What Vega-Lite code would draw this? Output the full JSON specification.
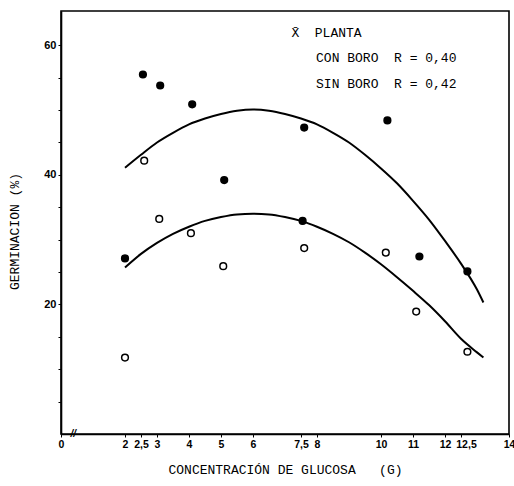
{
  "$schema": "https://vega.github.io/schema/vega-lite/v6.json",
  "width": 448,
  "height": 423,
  "autosize": "none",
  "padding": {"left": 61, "top": 11, "right": 5, "bottom": 52},
  "background": "white",
  "config": {
    "view": {"stroke": "black", "strokeWidth": 1.6},
    "axis": {"domainColor": "black", "domainWidth": 1.6, "tickColor": "black", "grid": false, "labelColor": "black", "titleColor": "black"}
  },
  "datasets": {
    "points": [
      {"conc": 2.0, "germ": 27.1, "boro": "CON BORO"},
      {"conc": 2.56, "germ": 55.5, "boro": "CON BORO"},
      {"conc": 3.1, "germ": 53.8, "boro": "CON BORO"},
      {"conc": 4.1, "germ": 50.9, "boro": "CON BORO"},
      {"conc": 5.1, "germ": 39.2, "boro": "CON BORO"},
      {"conc": 7.6, "germ": 47.3, "boro": "CON BORO"},
      {"conc": 7.55, "germ": 32.9, "boro": "CON BORO"},
      {"conc": 10.2, "germ": 48.4, "boro": "CON BORO"},
      {"conc": 11.2, "germ": 27.4, "boro": "CON BORO"},
      {"conc": 12.7, "germ": 25.1, "boro": "CON BORO"},
      {"conc": 2.0, "germ": 11.8, "boro": "SIN BORO"},
      {"conc": 2.6, "germ": 42.2, "boro": "SIN BORO"},
      {"conc": 3.07, "germ": 33.2, "boro": "SIN BORO"},
      {"conc": 4.06, "germ": 31.0, "boro": "SIN BORO"},
      {"conc": 5.07, "germ": 25.9, "boro": "SIN BORO"},
      {"conc": 7.6, "germ": 28.7, "boro": "SIN BORO"},
      {"conc": 10.15, "germ": 28.0, "boro": "SIN BORO"},
      {"conc": 11.1, "germ": 18.9, "boro": "SIN BORO"},
      {"conc": 12.7, "germ": 12.7, "boro": "SIN BORO"}
    ],
    "curves": [
      {"conc": 2.0, "germ": 41.1, "boro": "CON BORO"},
      {"conc": 2.5, "germ": 43.1, "boro": "CON BORO"},
      {"conc": 3.0, "germ": 45.0, "boro": "CON BORO"},
      {"conc": 3.5, "germ": 46.5, "boro": "CON BORO"},
      {"conc": 4.0, "germ": 47.8, "boro": "CON BORO"},
      {"conc": 4.5, "germ": 48.7, "boro": "CON BORO"},
      {"conc": 5.0, "germ": 49.4, "boro": "CON BORO"},
      {"conc": 5.5, "germ": 49.9, "boro": "CON BORO"},
      {"conc": 6.0, "germ": 50.1, "boro": "CON BORO"},
      {"conc": 6.5, "germ": 49.9, "boro": "CON BORO"},
      {"conc": 7.0, "germ": 49.4, "boro": "CON BORO"},
      {"conc": 7.5, "germ": 48.7, "boro": "CON BORO"},
      {"conc": 8.0, "germ": 47.8, "boro": "CON BORO"},
      {"conc": 8.5, "germ": 46.5, "boro": "CON BORO"},
      {"conc": 9.0, "germ": 45.0, "boro": "CON BORO"},
      {"conc": 9.5, "germ": 43.1, "boro": "CON BORO"},
      {"conc": 10.0, "germ": 41.0, "boro": "CON BORO"},
      {"conc": 10.5, "germ": 38.7, "boro": "CON BORO"},
      {"conc": 11.0, "germ": 36.0, "boro": "CON BORO"},
      {"conc": 11.5, "germ": 33.1, "boro": "CON BORO"},
      {"conc": 12.0, "germ": 29.8, "boro": "CON BORO"},
      {"conc": 12.5, "germ": 26.3, "boro": "CON BORO"},
      {"conc": 13.0, "germ": 22.3, "boro": "CON BORO"},
      {"conc": 13.2, "germ": 20.3, "boro": "CON BORO"},
      {"conc": 2.0, "germ": 25.7, "boro": "SIN BORO"},
      {"conc": 2.5, "germ": 27.8, "boro": "SIN BORO"},
      {"conc": 3.0, "germ": 29.5, "boro": "SIN BORO"},
      {"conc": 3.5, "germ": 30.9, "boro": "SIN BORO"},
      {"conc": 4.0, "germ": 32.0, "boro": "SIN BORO"},
      {"conc": 4.5, "germ": 32.9, "boro": "SIN BORO"},
      {"conc": 5.0, "germ": 33.5, "boro": "SIN BORO"},
      {"conc": 5.5, "germ": 33.9, "boro": "SIN BORO"},
      {"conc": 6.0, "germ": 34.0, "boro": "SIN BORO"},
      {"conc": 6.5, "germ": 33.9, "boro": "SIN BORO"},
      {"conc": 7.0, "germ": 33.5, "boro": "SIN BORO"},
      {"conc": 7.5, "germ": 32.9, "boro": "SIN BORO"},
      {"conc": 8.0, "germ": 32.0, "boro": "SIN BORO"},
      {"conc": 8.5, "germ": 30.9, "boro": "SIN BORO"},
      {"conc": 9.0, "germ": 29.6, "boro": "SIN BORO"},
      {"conc": 9.5, "germ": 28.0, "boro": "SIN BORO"},
      {"conc": 10.0, "germ": 26.2, "boro": "SIN BORO"},
      {"conc": 10.5, "germ": 24.2, "boro": "SIN BORO"},
      {"conc": 11.0, "germ": 22.1, "boro": "SIN BORO"},
      {"conc": 11.5, "germ": 19.9, "boro": "SIN BORO"},
      {"conc": 12.0, "germ": 17.4, "boro": "SIN BORO"},
      {"conc": 12.5, "germ": 14.7, "boro": "SIN BORO"},
      {"conc": 13.0, "germ": 12.6, "boro": "SIN BORO"},
      {"conc": 13.2, "germ": 11.8, "boro": "SIN BORO"}
    ],
    "notes": [
      {"label": "X\u0304\u00a0\u00a0PLANTA", "conc": 7.2, "germ": 61.9, "kind": "legend"},
      {"label": "CON BORO\u00a0\u00a0R = 0,40", "conc": 7.97, "germ": 58.0, "kind": "legend"},
      {"label": "SIN BORO\u00a0\u00a0R = 0,42", "conc": 7.97, "germ": 54.1, "kind": "legend"},
      {"label": "//", "conc": 0.38, "germ": 0, "kind": "break"}
    ]
  },
  "layer": [
    {
      "data": {"name": "curves"},
      "mark": {"type": "line", "color": "black", "strokeWidth": 2, "interpolate": "monotone"},
      "encoding": {
        "x": {
          "field": "conc", "type": "quantitative",
          "scale": {"domain": [0, 14], "nice": false, "zero": false},
          "axis": {
            "title": "CONCENTRACIÓN DE GLUCOSA\u00a0\u00a0\u00a0(G)",
            "titleFont": "Liberation Mono", "titleFontSize": 13, "titleFontWeight": "normal", "titlePadding": 14,
            "values": [0, 2, 2.5, 3, 4, 5, 6, 7.5, 8, 10, 11, 12, 12.5, 14],
            "tickCount": 100,
            "format": ".1~f",
            "labelExpr": "replace(datum.label, '.', ',')",
            "labelFont": "Liberation Sans", "labelFontWeight": "bold", "labelFontSize": 10.5,
            "labelOffset": {"condition": {"test": "datum.value == 12.5", "value": 5}, "value": 0},
            "labelFlush": false, "labelOverlap": false, "tickSize": 3, "labelPadding": 2
          }
        },
        "y": {
          "field": "germ", "type": "quantitative",
          "scale": {"domain": [0, 65.3], "nice": false, "zero": false},
          "axis": {
            "title": "GERMINACION (%)",
            "titleFont": "Liberation Mono", "titleFontSize": 13, "titleFontWeight": "normal", "titlePadding": 22,
            "titleY": 220,
            "values": [5, 10, 15, 20, 25, 30, 35, 40, 45, 50, 55, 60],
            "tickCount": 100,
            "format": "d",
            "labelExpr": "datum.value % 20 == 0 ? datum.label : ''",
            "labelOverlap": false,
            "labelFont": "Liberation Sans", "labelFontWeight": "bold", "labelFontSize": 11,
            "tickSize": 3, "labelPadding": 2
          }
        },
        "detail": {"field": "boro"}
      }
    },
    {
      "data": {"name": "points"},
      "mark": {"type": "point", "shape": "circle", "stroke": "black", "strokeWidth": 1.5, "size": 45, "opacity": 1},
      "encoding": {
        "x": {"field": "conc", "type": "quantitative"},
        "y": {"field": "germ", "type": "quantitative"},
        "fill": {
          "field": "boro", "type": "nominal",
          "scale": {"domain": ["CON BORO", "SIN BORO"], "range": ["black", "white"]},
          "legend": null
        }
      }
    },
    {
      "data": {"name": "notes"},
      "transform": [{"filter": "datum.kind == 'legend'"}],
      "mark": {"type": "text", "align": "left", "baseline": "middle", "font": "Liberation Mono", "fontSize": 13, "color": "black"},
      "encoding": {
        "x": {"field": "conc", "type": "quantitative"},
        "y": {"field": "germ", "type": "quantitative"},
        "text": {"field": "label"}
      }
    },
    {
      "data": {"name": "notes"},
      "transform": [{"filter": "datum.kind == 'break'"}],
      "mark": {"type": "text", "align": "center", "baseline": "middle", "font": "Liberation Sans", "fontSize": 10, "fontStyle": "italic", "fontWeight": "bold", "color": "black"},
      "encoding": {
        "x": {"field": "conc", "type": "quantitative"},
        "y": {"field": "germ", "type": "quantitative"},
        "text": {"field": "label"}
      }
    }
  ]
}
